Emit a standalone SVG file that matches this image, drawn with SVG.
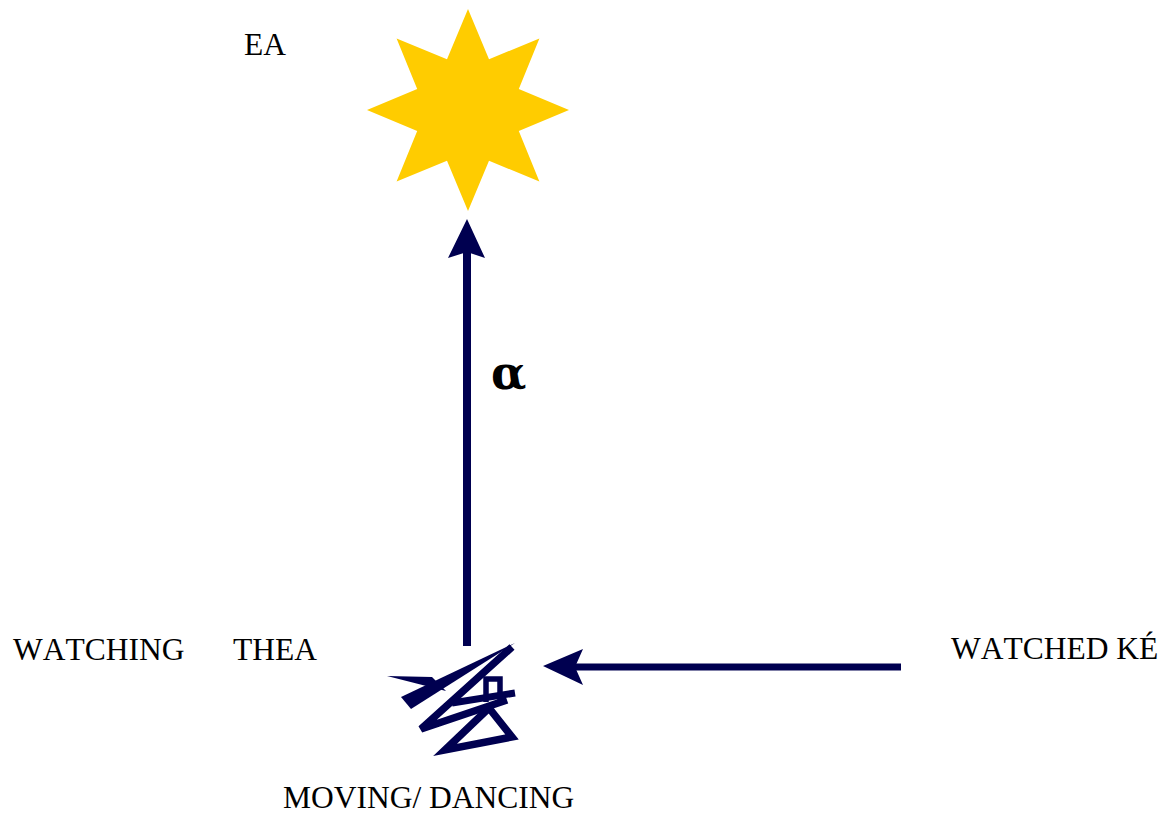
<svg xmlns="http://www.w3.org/2000/svg" width="1169" height="819" viewBox="0 0 1169 819">
<style>
.t{font-family:"Liberation Serif","Times New Roman",serif;font-size:31.5px;fill:#000;font-kerning:none}
.ln{stroke:#000050;fill:none}
.hd{fill:#000050}
</style>
<rect width="1169" height="819" fill="#fff"/>
<g id="star">
<polygon fill="#FFCC00" points="468,9 489,59.2 539.4,38.6 518.8,89 569,110 518.8,131 539.4,181.4 489,160.8 468,211 447,160.8 396.6,181.4 417.2,131 367,110 417.2,89 396.6,38.6 447,59.2"/>
</g>
<g id="ea"><text class="t" x="244" y="55">EA</text></g>
<g id="watching"><text class="t" x="13" y="660">WATCHING</text></g>
<g id="thea"><text class="t" x="233" y="660">THEA</text></g>
<g id="watched"><text class="t" x="951" y="659">WATCHED KÉ</text></g>
<g id="moving"><text class="t" x="283" y="808">MOVING/ DANCING</text></g>
<g id="alpha"><text x="491" y="389" style="font-family:'DejaVu Serif',serif;font-size:46px;font-weight:bold;fill:#000">α</text></g>
<g id="dancer">
<polygon class="hd" points="387,676 432,677 446,691"/>
<polygon class="hd" points="401,697 515,643 411,709"/>
<polyline class="ln" stroke-width="7.5" stroke-linejoin="miter" points="512,647 421,729 507,700"/>
<polyline class="ln" stroke-width="5.5" points="486,702 486,679 500,679 500,702"/>
<polyline class="ln" stroke-width="7" points="452,703 515,693"/>
<polygon class="ln" stroke-width="7.5" stroke-linejoin="miter" points="489,708 445,750 512,737"/>
</g>
<g id="connectors">
<line class="ln" stroke-width="8" x1="467" y1="646" x2="467" y2="252"/>
<polygon class="hd" points="467,219 485,258 467,252 448,258"/>
<line class="ln" stroke-width="7" x1="901" y1="667" x2="575" y2="667"/>
<polygon class="hd" points="543,666 583,649 575,667 583,685"/>
</g>
</svg>
